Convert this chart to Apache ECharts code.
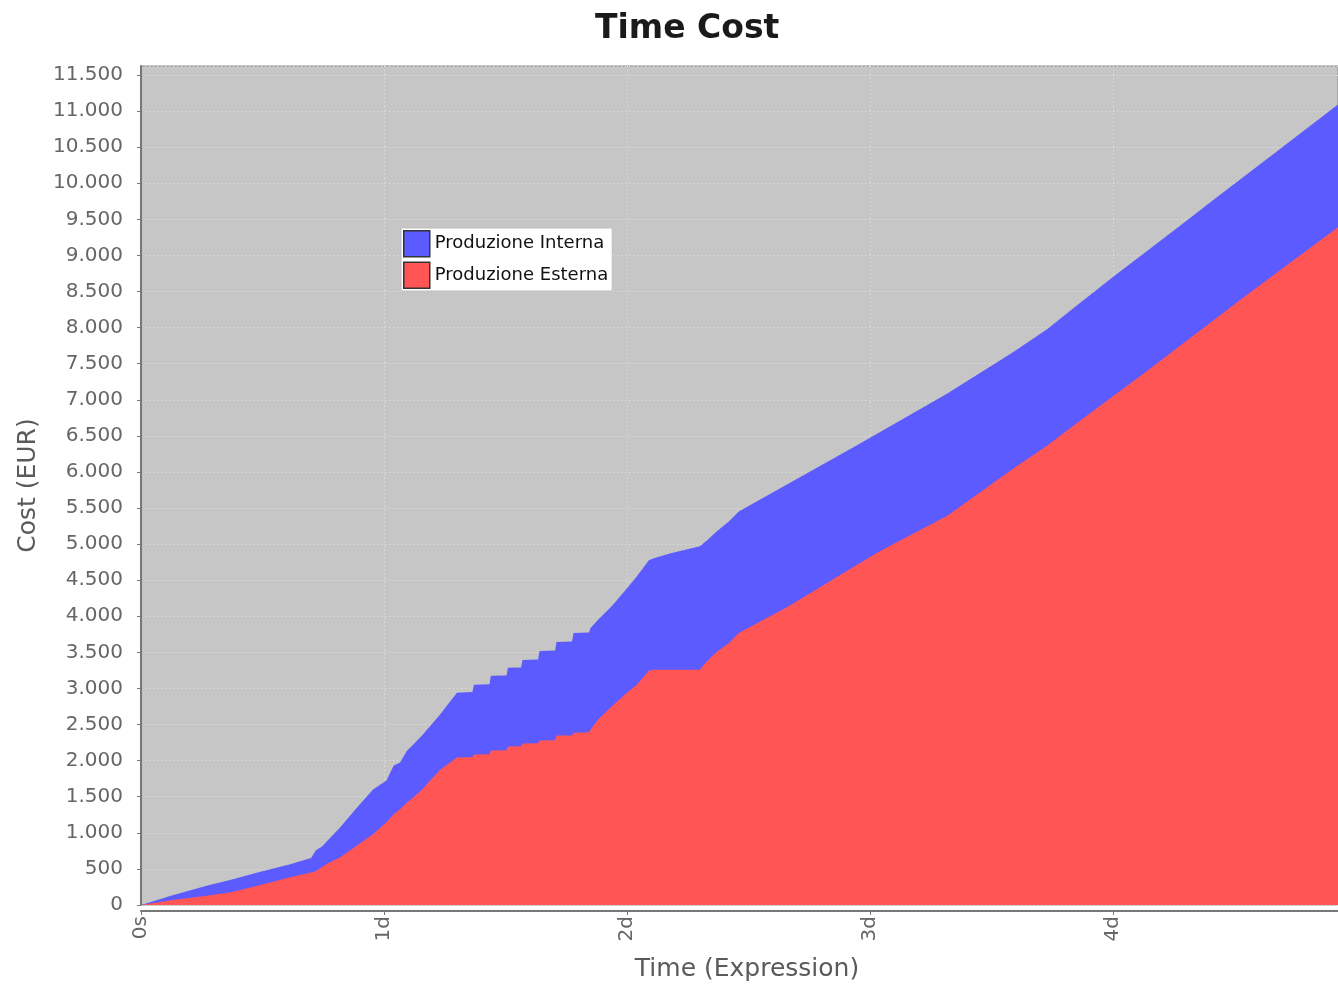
<!DOCTYPE html>
<html>
<head>
<meta charset="utf-8">
<script src="https://cdn.jsdelivr.net/npm/echarts@6/dist/echarts.min.js"></script>
<style>html,body{margin:0;padding:0;background:#fff;}#c{width:1338px;height:987px;}</style>
</head>
<body>
<div id="c"></div>
<script>
// time in days
const times = [0,0.13,0.27,0.37,0.48,0.61,0.70,0.72,0.745,0.77,0.82,0.89,0.955,1.01,1.04,1.066,1.095,1.12,1.16,1.19,1.23,1.30,1.364,1.37,1.434,1.44,1.504,1.51,1.564,1.57,1.634,1.64,1.704,1.71,1.774,1.78,1.844,1.85,1.88,1.94,2.0,2.04,2.09,2.11,2.18,2.30,2.33,2.37,2.42,2.46,2.66,2.93,3.04,3.32,3.59,3.73,3.86,4.0,4.14,4.28,4.41,4.55,4.69,4.926];
const esterna = [0,70,128,175,265,380,450,470,525,580,662,828,980,1146,1256,1325,1420,1491,1610,1725,1870,2043,2050,2085,2090,2140,2145,2195,2200,2237,2240,2278,2282,2347,2350,2388,2392,2430,2568,2761,2940,3051,3244,3258,3258,3258,3382,3507,3631,3769,4130,4680,4901,5398,6047,6365,6700,7050,7400,7760,8090,8450,8800,9390];
const interna = [0,65,137,175,185,180,200,290,285,320,415,525,620,579,677,649,720,729,751,755,767,897,900,966,970,1035,1035,1091,1090,1159,1160,1242,1243,1298,1300,1381,1383,1408,1382,1389,1450,1499,1533,1546,1615,1712,1671,1670,1684,1684,1700,1660,1649,1692,1615,1615,1630,1650,1660,1660,1670,1670,1680,1700];
const seriesNames = ['Produzione Interna','Produzione Esterna'];
const xTickLabels = ['0s','1d','2d','3d','4d'];

// stacked total (Interna drawn on top of Esterna)
const stackedTop = esterna.map((v,i)=>v + interna[i]);

const chart = echarts.init(document.getElementById('c'), null, {renderer:'canvas'});
const fmt = v => String(v).replace(/\B(?=(\d{3})+(?!\d))/g, '.');
chart.setOption({
  animation:false,
  backgroundColor:'#ffffff',
  title:{text:'Time Cost', left:595, top:13, padding:0,
    textStyle:{fontFamily:'DejaVu Sans', fontWeight:'bold', fontSize:33, color:'#1a1a1a'}},
  legend:{
    orient:'vertical', left:401, top:228, icon:'rect', itemWidth:26, itemHeight:26, itemGap:4,
    padding:[2,4,2,2], backgroundColor:'#ffffff', borderColor:'#bdbdbd', borderWidth:1, borderRadius:0,
    textStyle:{fontFamily:'DejaVu Sans', fontSize:18, color:'#111'},
    data:[
      {name:seriesNames[0], itemStyle:{color:'#5b5bff', borderColor:'#333', borderWidth:1.5}},
      {name:seriesNames[1], itemStyle:{color:'#ff5555', borderColor:'#333', borderWidth:1.5}}
    ]
  },
  grid:{left:141, right:0, top:66, bottom:79, show:true, backgroundColor:'#c6c6c6', borderColor:'#8a8a8a', borderWidth:1, containLabel:false},
  xAxis:{
    type:'value', min:0, max:4.926, interval:1, offset:6,
    name:'Time (Expression)', nameLocation:'middle', nameGap:46,
    nameTextStyle:{fontFamily:'DejaVu Sans', fontSize:25, color:'#5a5a5a', padding:[0,0,0,15]},
    axisLine:{show:true, onZero:false, lineStyle:{color:'#777', width:2}},
    axisTick:{show:true, length:4, lineStyle:{color:'#777'}},
    axisLabel:{rotate:90, margin:5, showMaxLabel:false, fontFamily:'DejaVu Sans', fontSize:20, color:'#666',
      formatter:v => { const i = Math.round(v); return Math.abs(v-i)<1e-6 && xTickLabels[i] ? xTickLabels[i] : ''; }},
    splitLine:{show:true, lineStyle:{color:'#e6e6e6', type:[1,3], width:1}}
  },
  yAxis:{
    type:'value', min:0, max:11624, interval:500, offset:6,
    name:'Cost (EUR)', nameLocation:'middle', nameGap:94,
    nameTextStyle:{fontFamily:'DejaVu Sans', fontSize:25, color:'#5a5a5a'},
    axisLine:{show:true, lineStyle:{color:'#777', width:2}},
    axisTick:{show:true, length:4, lineStyle:{color:'#777'}},
    axisLabel:{margin:12, showMaxLabel:false, fontFamily:'DejaVu Sans', fontSize:20, color:'#666', formatter:fmt},
    splitLine:{show:true, lineStyle:{color:'#e6e6e6', type:[1,3], width:1}}
  },
  series:[
    {name:seriesNames[0], type:'line', showSymbol:false, symbol:'none', z:2,
      lineStyle:{width:0}, itemStyle:{color:'#5b5bff'}, areaStyle:{color:'#5b5bff', opacity:1},
      data: times.map((t,i)=>[t, stackedTop[i]])},
    {name:seriesNames[1], type:'line', showSymbol:false, symbol:'none', z:3,
      lineStyle:{width:0}, itemStyle:{color:'#ff5555'}, areaStyle:{color:'#ff5555', opacity:1},
      data: times.map((t,i)=>[t, esterna[i]])}
  ]
});
</script>
</body>
</html>
